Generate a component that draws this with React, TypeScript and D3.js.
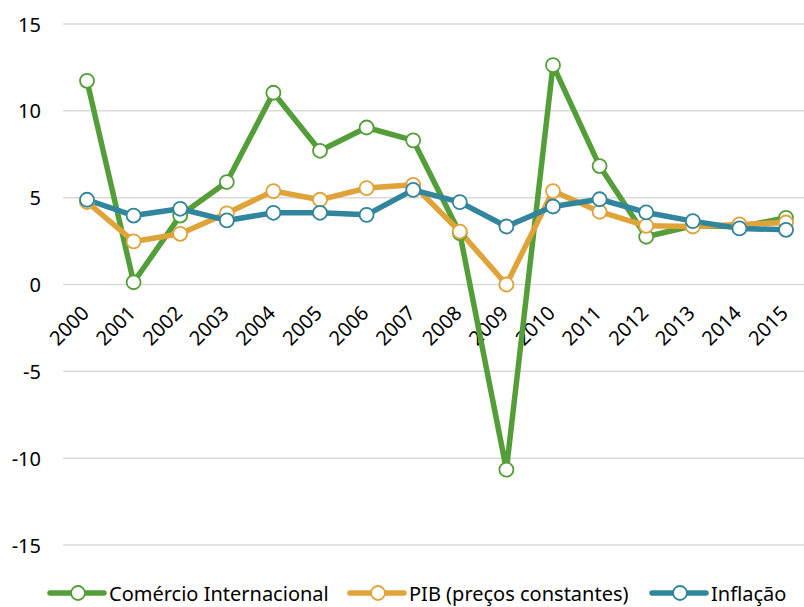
import React, { useEffect, useRef } from 'react';
import * as d3 from 'd3';

const years = ['2000', '2001', '2002', '2003', '2004', '2005', '2006', '2007', '2008', '2009', '2010', '2011', '2012', '2013', '2014', '2015'];
const comercio = [11.73, 0.13, 3.97, 5.9, 11.04, 7.7, 9.04, 8.3, 2.95, -10.66, 12.63, 6.82, 2.75, 3.38, 3.32, 3.84];
const pib = [4.75, 2.48, 2.92, 4.1, 5.38, 4.88, 5.55, 5.74, 3.05, 0.0, 5.38, 4.19, 3.38, 3.34, 3.46, 3.57];
const inflacao = [4.88, 3.97, 4.36, 3.69, 4.13, 4.13, 4.01, 5.45, 4.74, 3.34, 4.49, 4.91, 4.15, 3.65, 3.23, 3.15];
const yTicks = [-15, -10, -5, 0, 5, 10, 15];

const series = [
  { name: 'Comércio Internacional', values: comercio, color: '#549E39' },
  { name: 'PIB (preços constantes)', values: pib, color: '#E0A33A' },
  { name: 'Inflação', values: inflacao, color: '#31859C' },
];

const W = 804, H = 607;
const FONT = "'Noto Sans', sans-serif";

const App = () => {
  const ref = useRef<SVGSVGElement>(null);

  useEffect(() => {
    const svg = d3.select(ref.current);
    svg.selectAll('*').remove();

    const x = d3.scalePoint().domain(years).range([87, 786]);
    const y = d3.scaleLinear().domain([-15, 15]).range([545, 24]);

    // grid lines
    svg.append('g').selectAll('line').data(yTicks).enter().append('line')
      .attr('x1', 63).attr('x2', W)
      .attr('y1', d => y(d)).attr('y2', d => y(d))
      .attr('stroke', '#d9d9d9').attr('stroke-width', 1.5);

    // y labels
    svg.append('g').selectAll('text').data(yTicks).enter().append('text')
      .attr('x', 41).attr('y', d => y(d))
      .attr('text-anchor', 'end').attr('dominant-baseline', 'central')
      .style('font-family', FONT).style('font-size', '20px').attr('fill', '#000')
      .text(d => d);

    // x labels
    svg.append('g').selectAll('text').data(years).enter().append('text')
      .attr('transform', d => `translate(${x(d)! - 2},${309}) rotate(-45)`)
      .attr('text-anchor', 'end').attr('dominant-baseline', 'central')
      .style('font-family', FONT).style('font-size', '20px').attr('fill', '#000')
      .text(d => d);

    const line = d3.line<number>().x((d, i) => x(years[i])!).y(d => y(d));

    series.forEach(s => {
      svg.append('path').datum(s.values)
        .attr('d', line)
        .attr('fill', 'none').attr('stroke', s.color)
        .attr('stroke-width', 5.5).attr('stroke-linejoin', 'round');
    });
    series.forEach(s => {
      svg.append('g').selectAll('circle').data(s.values).enter().append('circle')
        .attr('cx', (d, i) => x(years[i])!).attr('cy', d => y(d))
        .attr('r', 7).attr('fill', '#fff')
        .attr('stroke', s.color).attr('stroke-width', 1.8);
    });

    // legend
    const legendX = [50, 350, 652];
    const leg = svg.append('g');
    series.forEach((s, i) => {
      const lx = legendX[i];
      const ly = 593;
      leg.append('line').attr('x1', lx).attr('x2', lx + 54).attr('y1', ly).attr('y2', ly)
        .attr('stroke', s.color).attr('stroke-width', 5.5).attr('stroke-linecap', 'round');
      leg.append('circle').attr('cx', lx + 28).attr('cy', ly).attr('r', 7)
        .attr('fill', '#fff').attr('stroke', s.color).attr('stroke-width', 1.8);
      leg.append('text').attr('x', lx + 59).attr('y', ly)
        .attr('dominant-baseline', 'central')
        .style('font-family', FONT).style('font-size', '20px').attr('fill', '#000')
        .text(s.name);
    });
  }, []);

  return (
    <svg ref={ref} width={W} height={H} style={{ position: 'absolute', left: 0, top: 0, background: '#fff' }} />
  );
};

export default App;
